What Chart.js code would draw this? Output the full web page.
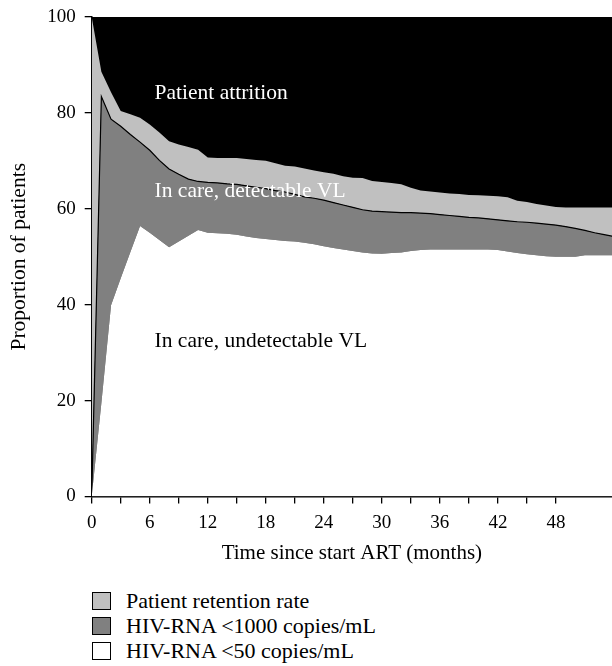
<!DOCTYPE html>
<html>
<head>
<meta charset="utf-8">
<script src="https://cdn.jsdelivr.net/npm/chart.js@4"></script>
<style>
    body { margin: 0; background: #fff; }
    #wrap { position: relative; width: 612px; height: 666px; }
    #chartBox { position: absolute; left: 0; top: 0; width: 612px; height: 566px; }
    #legend { position: absolute; left: 92px; top: 588px; font-family: "Liberation Serif", serif; font-size: 22px; color: #000; }
    .item { display: flex; align-items: center; height: 25px; }
    .box { width: 17px; height: 16px; border: 1px solid #000; margin-right: 15px; box-sizing: content-box; }
</style>
</head>
<body>
<div id="wrap">
    <div id="chartBox"><canvas id="vlChart"></canvas></div>
    <div id="legend"></div>
</div>
<script>
// months since ART start
const months = [0, 1, 2, 3, 4, 5, 6, 7, 8, 9, 10, 11, 12, 13, 14, 15, 16, 17, 18, 19, 20,
    21, 22, 23, 24, 25, 26, 27, 28, 29, 30, 31, 32, 33, 34, 35, 36, 37, 38, 39, 40,
    41, 42, 43, 44, 45, 46, 47, 48, 49, 50, 51, 52, 53, 53.8];

const retention = [100, 88.6, 84.3, 80.4, 79.7, 79.0, 77.6, 75.9, 74.1, 73.4, 72.9, 72.3, 70.7,
    70.6, 70.6, 70.6, 70.4, 70.2, 70.0, 69.5, 69.0, 68.8, 68.4, 68.0, 67.6, 67.3, 66.8, 66.5,
    66.4, 65.8, 65.6, 65.4, 65.1, 64.4, 63.8, 63.6, 63.4, 63.2, 63.1, 62.9, 62.8, 62.7, 62.6,
    62.4, 61.7, 61.4, 61.0, 60.7, 60.4, 60.25, 60.25, 60.25, 60.25, 60.25, 60.25];

const below1000 = [0, 83.4, 78.7, 77.2, 75.5, 73.9, 72.2, 70.1, 68.3, 67.2, 66.2, 65.7, 65.5,
    65.4, 65.2, 65.1, 64.8, 64.5, 64.2, 63.8, 63.5, 63.0, 62.5, 62.2, 61.8, 61.3, 60.8, 60.3,
    59.8, 59.5, 59.4, 59.3, 59.2, 59.2, 59.1, 59.0, 58.8, 58.6, 58.4, 58.2, 58.1, 57.9, 57.7,
    57.5, 57.3, 57.2, 57.0, 56.8, 56.6, 56.3, 55.9, 55.5, 55.0, 54.6, 54.3];

const below50 = [0, 19.5, 39.9, 45.5, 51.0, 56.4, 55.0, 53.5, 52.0, 53.2, 54.4, 55.6, 55.0,
    54.9, 54.8, 54.6, 54.2, 53.9, 53.7, 53.5, 53.3, 53.2, 52.9, 52.6, 52.2, 51.8, 51.5, 51.2,
    50.9, 50.7, 50.6, 50.8, 50.9, 51.2, 51.4, 51.5, 51.5, 51.5, 51.5, 51.5, 51.5, 51.5, 51.4,
    51.1, 50.8, 50.5, 50.3, 50.1, 50.0, 50.0, 50.0, 50.3, 50.3, 50.3, 50.3];

const yTicks = [0, 20, 40, 60, 80, 100];
const xLabelTicks = [0, 6, 12, 18, 24, 30, 36, 42, 48];

// region labels inside the plot: [text, month, value, colour]
const regionLabels = [
    ['Patient attrition', 6.5, 83, '#fff'],
    ['In care, detectable VL', 6.5, 62.4, '#fff'],
    ['In care, undetectable VL', 6.5, 31.1, '#000']
];

const serif = '"Liberation Serif", "DejaVu Serif", serif';

function toPoints(vals) {
    return months.map((m, i) => ({ x: m, y: vals[i] }));
}

const plotBg = {
    id: 'plotBg',
    beforeDatasetsDraw(chart) {
        const a = chart.chartArea, ctx = chart.ctx;
        ctx.save();
        ctx.fillStyle = '#000';
        ctx.fillRect(a.left, a.top, a.right - a.left, a.bottom - a.top);
        ctx.restore();
    }
};

const regionText = {
    id: 'regionText',
    afterDatasetsDraw(chart) {
        const ctx = chart.ctx, xs = chart.scales.x, ys = chart.scales.y;
        ctx.save();
        ctx.font = '21.5px ' + serif;
        ctx.textBaseline = 'alphabetic';
        regionLabels.forEach(([txt, m, v, col]) => {
            ctx.fillStyle = col;
            ctx.fillText(txt, xs.getPixelForValue(m), ys.getPixelForValue(v));
        });
        ctx.restore();
    }
};

const datasets = [
    {
        label: 'HIV-RNA <50 copies/mL',
        data: toPoints(below50),
        backgroundColor: '#ffffff',
        borderWidth: 0,
        fill: 'origin'
    },
    {
        label: 'HIV-RNA <1000 copies/mL',
        data: toPoints(below1000),
        backgroundColor: '#808080',
        borderColor: '#000',
        borderWidth: 1.2,
        fill: '-1'
    },
    {
        label: 'Patient retention rate',
        data: toPoints(retention),
        backgroundColor: '#c0c0c0',
        borderWidth: 0,
        fill: '-1'
    }
];

new Chart(document.getElementById('vlChart'), {
    type: 'line',
    data: { datasets: datasets },
    options: {
        responsive: true,
        maintainAspectRatio: false,
        animation: false,
        elements: { point: { radius: 0 }, line: { tension: 0 } },
        layout: { padding: { top: 17, right: 0, left: 0, bottom: 0 } },
        plugins: { legend: { display: false }, tooltip: { enabled: false } },
        scales: {
            x: {
                type: 'linear',
                min: 0,
                max: 53.8,
                afterBuildTicks: s => { s.ticks = s.ticks.filter(t => Number.isInteger(t.value) && t.value % 3 === 0); },
                afterFit: s => { s.height = 69.5; s.paddingRight = 0; },
                ticks: {
                    stepSize: 3,
                    autoSkip: false,
                    maxRotation: 0,
                    color: '#000',
                    padding: 8,
                    font: { family: serif, size: 19 },
                    callback: v => xLabelTicks.includes(v) ? String(v) : ''
                },
                grid: { drawOnChartArea: false, color: '#000', tickLength: 7, lineWidth: 1.3 },
                border: { color: '#000', width: 1.5 },
                title: {
                    display: true,
                    text: 'Time since start ART (months)',
                    color: '#000',
                    padding: { top: 0, bottom: 0 },
                    font: { family: serif, size: 21 }
                }
            },
            y: {
                min: 0,
                max: 100,
                afterBuildTicks: s => { s.ticks = yTicks.map(v => ({ value: v })); },
                afterFit: s => { s.width = 91.7; s.paddingTop = 0; s.paddingBottom = 0; },
                ticks: {
                    stepSize: 20,
                    color: '#000',
                    padding: 9,
                    font: { family: serif, size: 19 }
                },
                grid: { drawOnChartArea: false, color: '#000', tickLength: 7, lineWidth: 1.3 },
                border: { color: '#000', width: 1.5 },
                title: {
                    display: true,
                    text: 'Proportion of patients',
                    color: '#000',
                    padding: { top: 6, bottom: 0 },
                    font: { family: serif, size: 21.5 }
                }
            }
        }
    },
    plugins: [plotBg, regionText]
});

// legend listing, top to bottom as in the figure
const legendEl = document.getElementById('legend');
datasets.slice().reverse().forEach(ds => {
    const row = document.createElement('div');
    row.className = 'item';
    row.innerHTML = `<span class="box" style="background:${ds.backgroundColor}"></span><span>${ds.label.replace('<', '&lt;')}</span>`;
    legendEl.appendChild(row);
});
</script>
</body>
</html>
